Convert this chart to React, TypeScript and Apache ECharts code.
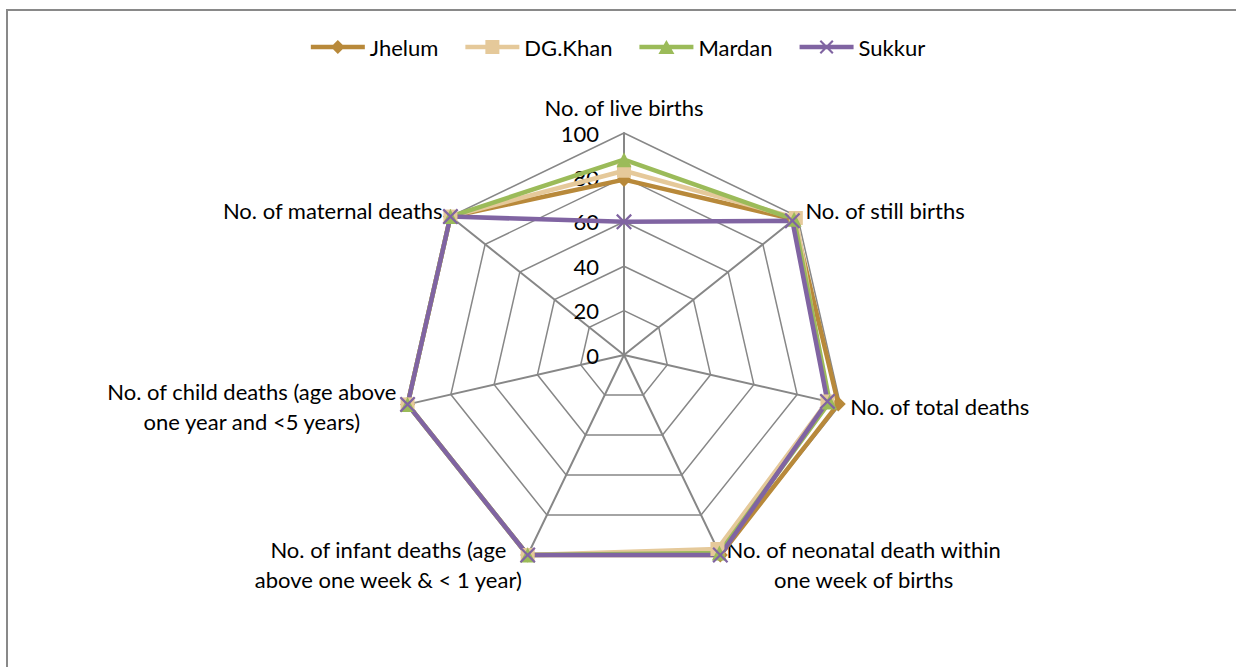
import React, { useEffect, useRef } from "react";
import * as echarts from "echarts";

// Categories in clockwise order starting at the top
const indicatorNames = [
  "No. of live births",
  "No. of still births",
  "No. of total deaths",
  "No. of neonatal death within\none week of births",
  "No. of infant deaths (age\nabove one week & < 1 year)",
  "No. of child deaths (age above\none year and <5 years)",
  "No. of maternal deaths",
];
const seriesNames = ["Jhelum", "DG.Khan", "Mardan", "Sukkur"];
const jhelum = [79, 98, 99, 100, 100, 100, 100];
const dgKhan = [83, 99, 94, 97, 100, 100, 100];
const mardan = [88, 98, 95, 99, 100, 100, 100];
const sukkur = [60, 97, 94, 100, 100, 100, 100];
const seriesColors = ["#B8893A", "#E5C99A", "#9BBB59", "#8064A2"];

const FONT = "Lato";
const FS = 22;

const X_PATH =
  "path://M1,0 L5,4 L9,0 L10,1 L6,5 L10,9 L9,10 L5,6 L1,10 L0,9 L4,5 L0,1 Z";

const LINE = "M0,4.75 L54,4.75 L54,9.25 L0,9.25 Z";
const legendIcons = [
  "path://" + LINE + " M27,0 L34,7 L27,14 L20,7 Z",
  "path://" + LINE + " M20,0 L34,0 L34,14 L20,14 Z",
  "path://" + LINE + " M27,0 L35,14 L19,14 Z",
  "path://" +
    LINE +
    " M20,1.5 L21.5,0 L34,12.5 L32.5,14 Z M32.5,0 L34,1.5 L21.5,14 L20,12.5 Z",
];

// ECharts lays radar axes out counter-clockwise; reorder to appear clockwise
const order = [0, 6, 5, 4, 3, 2, 1];

export default function App() {
  const ref = useRef<HTMLDivElement>(null);
  useEffect(() => {
    if (!ref.current) return;
    const chart = echarts.init(ref.current, undefined, { renderer: "svg" });

    const canvas = document.createElement("canvas");
    const ctx = canvas.getContext("2d")!;
    ctx.font = `${FS}px ${FONT}`;
    const rich: Record<string, any> = {};
    const nameKey: Record<string, string> = {};
    indicatorNames.forEach((n, i) => {
      const lines = n.split("\n");
      if (lines.length > 1) {
        const w = Math.max(...lines.map((l) => ctx.measureText(l).width));
        rich["n" + i] = {
          width: Math.ceil(w) + 2,
          align: "center",
          fontSize: FS,
          fontFamily: FONT,
          color: "#000",
          lineHeight: 30,
        };
        nameKey[n] = "n" + i;
      }
    });

    const dataSets = [jhelum, dgKhan, mardan, sukkur];
    const symbols = ["diamond", "rect", "triangle", X_PATH];
    const symbolSizes = [15, 14, 15, 16];

    chart.setOption({
      animation: false,
      backgroundColor: "#fff",
      legend: {
        top: 31,
        left: "center",
        itemWidth: 54,
        itemHeight: 14,
        itemGap: 27,
        textStyle: { fontFamily: FONT, fontSize: FS, color: "#000" },
        data: seriesNames.map((n, i) => ({ name: n, icon: legendIcons[i] })),
      },
      radar: {
        center: [624, 355],
        radius: 222,
        startAngle: 90,
        shape: "polygon",
        splitNumber: 5,
        nameGap: 10,
        axisName: {
          color: "#000",
          fontFamily: FONT,
          fontSize: FS,
          lineHeight: 30,
          rich,
          formatter: (name: string) => {
            const k = nameKey[name];
            if (!k) return name;
            return name
              .split("\n")
              .map((l) => `{${k}|${l}}`)
              .join("\n");
          },
        },
        axisLine: { lineStyle: { color: "#878787", width: 2 } },
        splitLine: { lineStyle: { color: "#878787", width: 1.5 } },
        splitArea: { show: false },
        indicator: order.map((idx, i) => {
          const o: any = { name: indicatorNames[idx], min: 0, max: 100 };
          if (i === 0) {
            o.axisLabel = {
              show: true,
              color: "#000",
              fontFamily: FONT,
              fontSize: FS,
              margin: 25,
              padding: [8, 0, 0, 0],
              showMinLabel: true,
              showMaxLabel: true,
            };
          }
          return o;
        }),
      },
      series: [
        {
          type: "radar",
          data: dataSets.map((d, i) => ({
            name: seriesNames[i],
            value: order.map((idx) => d[idx]),
            symbol: symbols[i],
            symbolSize: symbolSizes[i],
            lineStyle: { color: seriesColors[i], width: 4.5 },
            itemStyle: { color: seriesColors[i] },
          })),
        },
      ],
      color: seriesColors,
    });
    return () => chart.dispose();
  }, []);

  return (
    <div
      style={{
        position: "fixed",
        left: 0,
        top: 0,
        width: 1236,
        height: 667,
        overflow: "hidden",
        background: "#fff",
      }}
    >
      <div
        ref={ref}
        style={{ position: "absolute", left: 0, top: 0, width: 1236, height: 667 }}
      />
      <div
        style={{
          position: "absolute",
          left: 6,
          top: 9,
          width: 1300,
          height: 700,
          border: "2px solid #898989",
          pointerEvents: "none",
        }}
      />
    </div>
  );
}
